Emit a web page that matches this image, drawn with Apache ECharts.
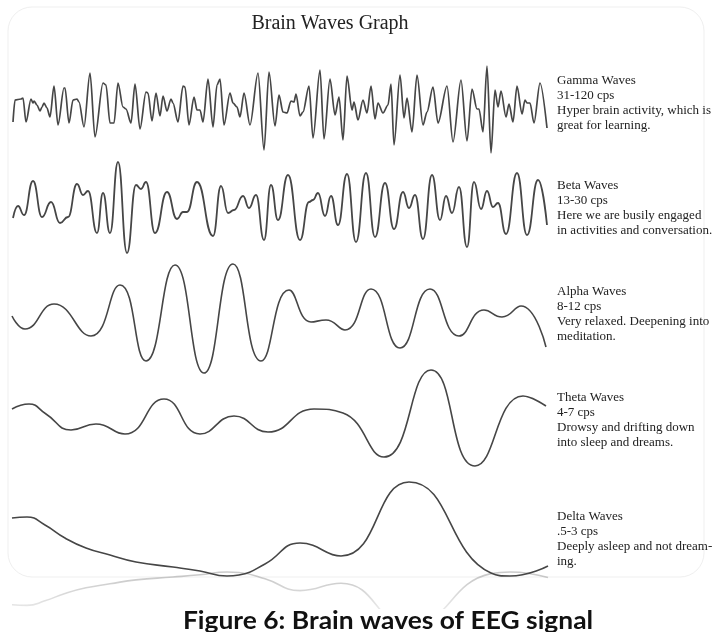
<!DOCTYPE html>
<html>
<head>
<meta charset="utf-8">
<script src="https://cdn.jsdelivr.net/npm/echarts@6/dist/echarts.min.js"></script>
<style>html,body{margin:0;padding:0;background:#fff;}#c{width:712px;height:632px;}</style>
</head>
<body>
<div id="c"></div>
<script>
// time (arbitrary units) and amplitude (arbitrary units) for each wave
const gammaT = [1,3,9,11,14,19,21,22,25,28,30,32,35,38,42,46,52,53,57,61,65,67,72,78,83,91,94,98,102,106,111,114,119,123,128,134,136,140,144,148,151,155,159,161,166,171,173,177,182,185,188,191,196,201,205,208,212,218,221,225,228,232,238,246,252,257,263,267,271,275,279,282,284,288,291,297,301,308,312,318,323,327,331,335,340,342,346,351,355,359,363,366,371,376,379,382,388,392,395,400,405,411,415,421,426,435,441,449,455,460,465,467,471,475,479,483,486,489,494,497,501,505,510,513,515,518,522,528,535];
const gammaV = [-12,10,11,12,-12,11,7,9,5,-1,3,7,2,-7,24,-15,22,22,-13,10,11,8,-17,37,-27,27,25,-13,-13,27,3,1,-13,26,-19,18,17,-11,17,-6,14,-1,11,7,-12,24,23,-15,13,0,0,-12,31,-17,25,31,-15,17,7,3,-7,17,-15,37,-40,38,-16,15,-2,-3,9,8,16,-6,-2,24,-28,40,-29,31,-5,13,-30,34,0,8,-10,10,-3,24,-9,7,-3,5,26,-35,35,-8,12,-22,35,-15,-2,23,-13,24,-32,30,-31,21,1,1,-22,44,-43,20,3,19,-7,6,-12,24,-4,10,7,7,-13,27,-18];

const betaT = [1,6,12,21,30,39,48,56,65,71,76,85,91,98,106,115,124,129,134,143,155,165,171,175,185,201,209,216,222,231,237,244,252,259,266,276,288,297,301,306,313,319,326,335,344,354,363,373,382,391,397,403,411,420,428,434,440,447,455,462,469,475,481,486,494,505,515,526,535];
const betaV = [-8,4,-5,29,-7,8,-13,-7,26,15,19,-23,17,-23,48,-43,25,21,28,-23,18,-9,-2,-2,28,-26,24,-3,0,14,2,15,-30,25,-10,35,-30,8,10,17,-6,14,-15,36,-32,37,-27,27,-19,18,2,15,-29,35,-10,14,-3,23,-37,28,1,19,3,7,-24,37,-25,30,-15];

const alphaT = [0,13,42,79,108,134,163,192,221,249,277,299,314,333,359,388,418,447,472,490,509,534];
const alphaV = [2,-11,14,-18,33,-43,53,-55,54,-43,28,-4,-2,-12,29,-30,29,-18,8,1,12,-29];

const thetaT = [0,17,34,59,84,113,152,188,222,256,302,331,372,419,463,511,534];
const thetaV = [11,16,6,-10,-4,-14,21,-14,4,-12,11,7,-37,50,-46,24,14];

const deltaT = [0,15,33,53,74,98,124,161,188,215,227,253,288,329,397,479,498,536];
const deltaV = [12,13,5,-8,-18,-25,-32,-37,-41,-46,-45,-34,-13,-26,48,-43,-46,-36];

const waveNames = ['Gamma Waves','Beta Waves','Alpha Waves','Theta Waves','Delta Waves'];
const waveRanges = ['31-120 cps','13-30 cps','8-12 cps','4-7 cps','.5-3 cps'];
const waveNotes = [
  ['Hyper brain activity, which is','great for learning.'],
  ['Here we are busily engaged','in activities and conversation.'],
  ['Very relaxed. Deepening into','meditation.'],
  ['Drowsy and drifting down','into sleep and dreams.'],
  ['Deeply asleep and not dream-','ing.']
];
const titleText = 'Brain Waves Graph';
const captionText = 'Figure 6: Brain waves of EEG signal';

const pairs = (t, v) => t.map((x, i) => [x, v[i]]);
const waves = [pairs(gammaT,gammaV), pairs(betaT,betaV), pairs(alphaT,alphaV), pairs(thetaT,thetaV), pairs(deltaT,deltaV)];

// layout
const gridTops = [60, 160, 258, 360, 470];
const gridHs = [100, 100, 120, 120, 120];
const yRanges = [50, 50, 60, 60, 60];
const smooths = [0.3, 0.5, 0.5, 0.5, 0.5];
const monotone = ['x', 'x', null, null, null];
const widths = [1.7, 1.8, 1.6, 1.6, 1.6];
const labelTops = [74, 179, 285, 391, 510];

const grids = [], xAxes = [], yAxes = [], series = [];
for (let i = 0; i < 5; i++) {
  grids.push({left: 12, width: 536, top: gridTops[i], height: gridHs[i], show: false});
  xAxes.push({type: 'value', gridIndex: i, min: 0, max: 536, show: false});
  yAxes.push({type: 'value', gridIndex: i, min: -yRanges[i], max: yRanges[i], show: false});
  const s = {
    type: 'line', xAxisIndex: i, yAxisIndex: i, data: waves[i],
    smooth: smooths[i], showSymbol: false, symbol: 'none', silent: true,
    lineStyle: {color: '#464646', width: widths[i]}
  };
  if (monotone[i]) s.smoothMonotone = monotone[i];
  series.push(s);
}
// reflection of the delta wave
grids.push({left: 12, width: 536, top: 564, height: 120, show: false});
xAxes.push({type: 'value', gridIndex: 5, min: 0, max: 536, show: false});
yAxes.push({type: 'value', gridIndex: 5, min: -60, max: 60, inverse: true, show: false});
series.push({
  type: 'line', xAxisIndex: 5, yAxisIndex: 5, data: waves[4], smooth: 0.5,
  showSymbol: false, symbol: 'none', silent: true, z: 1,
  lineStyle: {width: 1.6, color: {type: 'linear', x: 0, y: 577, x2: 0, y2: 625, global: true,
    colorStops: [{offset: 0, color: 'rgba(150,150,150,0.5)'}, {offset: 1, color: 'rgba(150,150,150,0.08)'}]}}
});

const graphic = [
  {type: 'rect', z: 0, shape: {x: 8, y: 7, width: 696, height: 570, r: 24},
   style: {fill: 'none', stroke: '#efefef', lineWidth: 1}},
  {type: 'rect', z: 50, shape: {x: 0, y: 609, width: 712, height: 23}, style: {fill: '#fff'}},
  {type: 'text', z: 60, x: 330, y: 24, style: {text: titleText, font: '20px "Liberation Serif"', fill: '#222', textAlign: 'center', textVerticalAlign: 'middle'}},
  {type: 'text', z: 60, x: 388, y: 621, scaleX: 1.1,
   style: {text: captionText, font: 'bold 24px Lato', fill: '#111', textAlign: 'center', textVerticalAlign: 'middle'}}
];
for (let i = 0; i < 5; i++) {
  const lines = [waveNames[i], waveRanges[i]].concat(waveNotes[i]);
  lines.forEach((s, k) => {
    graphic.push({type: 'text', z: 60, x: 557, y: labelTops[i] + k * 15,
      style: {text: s, font: '13px "Liberation Serif"', fill: '#222', textVerticalAlign: 'top'}});
  });
}

const chart = echarts.init(document.getElementById('c'), null, {renderer: 'canvas'});
chart.setOption({
  animation: false,
  backgroundColor: '#fff',
  grid: grids, xAxis: xAxes, yAxis: yAxes, series: series, graphic: graphic
});
</script>
</body>
</html>
